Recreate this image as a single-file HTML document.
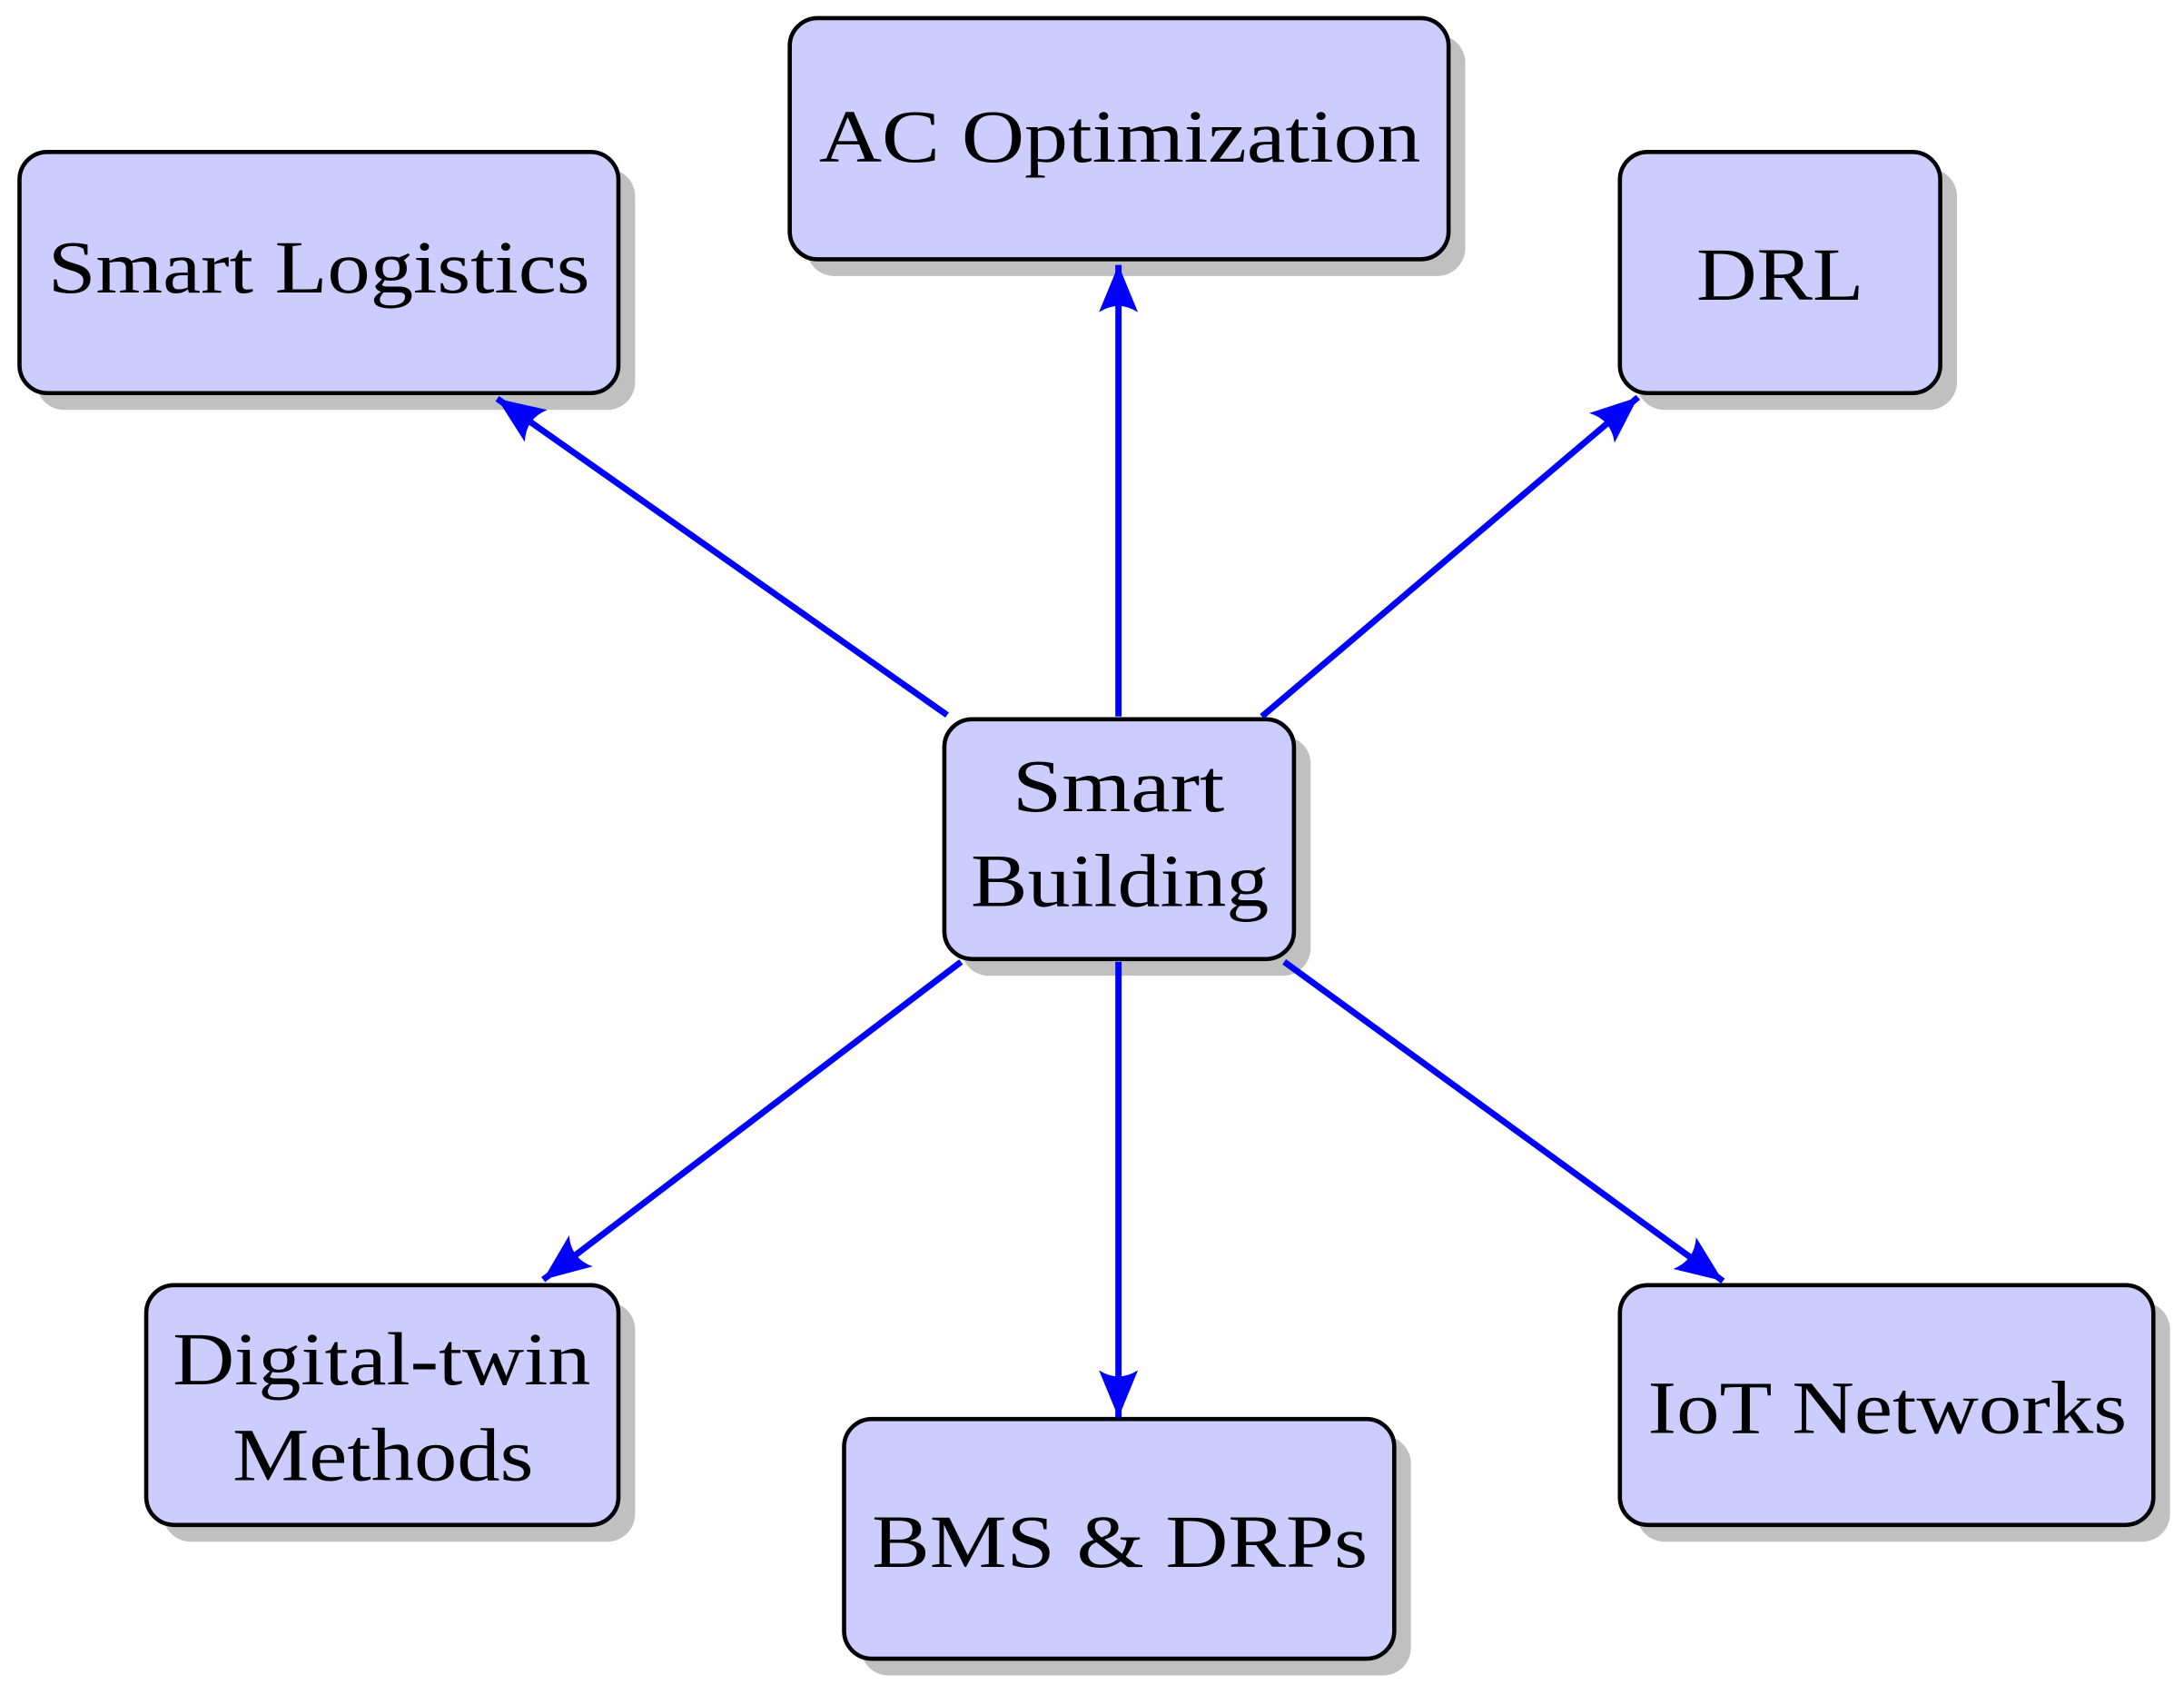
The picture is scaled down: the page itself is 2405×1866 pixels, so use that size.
<!DOCTYPE html>
<html><head><meta charset="utf-8"><style>
html,body{margin:0;padding:0;background:#fff;}
svg{display:block;}
text{font-family:"Liberation Serif",serif;font-size:54px;fill:#000;}
</style></head><body>
<svg width="2405" height="1866" viewBox="0 0 1568 1216" preserveAspectRatio="none" xmlns="http://www.w3.org/2000/svg">
<defs>
<marker id="a" markerUnits="userSpaceOnUse" markerWidth="40" markerHeight="32" refX="34" refY="14" orient="auto">
<path d="M0,0 L34,14 L0,28 Q9,14 0,0 z" fill="#0000ff"/>
</marker>
</defs>
<g fill="#c0c0c0">
<rect x="579" y="25" width="473" height="173" rx="20"/>
<rect x="26" y="121" width="430" height="173" rx="20"/>
<rect x="1175" y="121" width="230" height="173" rx="20"/>
<rect x="690" y="528" width="251" height="172" rx="20"/>
<rect x="117" y="934" width="339" height="172" rx="20"/>
<rect x="618" y="1030" width="395" height="172" rx="20"/>
<rect x="1175" y="934" width="383" height="172" rx="20"/>
</g>
<g fill="#ccccff" stroke="#000" stroke-width="3">
<rect x="567" y="13" width="473" height="173" rx="20"/>
<rect x="14" y="109" width="430" height="173" rx="20"/>
<rect x="1163" y="109" width="230" height="173" rx="20"/>
<rect x="678" y="516" width="251" height="172" rx="20"/>
<rect x="105" y="922" width="339" height="172" rx="20"/>
<rect x="606" y="1018" width="395" height="172" rx="20"/>
<rect x="1163" y="922" width="383" height="172" rx="20"/>
</g>
<g stroke="#0000ff" stroke-width="4.5" marker-end="url(#a)">
<line x1="803" y1="514" x2="803" y2="190"/>
<line x1="680" y1="513" x2="357" y2="286"/>
<line x1="906" y1="514" x2="1176" y2="285"/>
<line x1="690" y1="690" x2="390" y2="918"/>
<line x1="803" y1="690" x2="803" y2="1017"/>
<line x1="922" y1="690" x2="1237" y2="919"/>
</g>
<g text-anchor="middle" lengthAdjust="spacingAndGlyphs">
<text x="804" y="116" textLength="432" lengthAdjust="spacingAndGlyphs">AC Optimization</text>
<text x="229" y="210" textLength="389" lengthAdjust="spacingAndGlyphs">Smart Logistics</text>
<text x="1278" y="215" textLength="120" lengthAdjust="spacingAndGlyphs">DRL</text>
<text x="803" y="582" textLength="152" lengthAdjust="spacingAndGlyphs">Smart</text>
<text x="804" y="650" textLength="214" lengthAdjust="spacingAndGlyphs">Building</text>
<text x="274" y="993" textLength="300" lengthAdjust="spacingAndGlyphs">Digital-twin</text>
<text x="275" y="1062" textLength="216" lengthAdjust="spacingAndGlyphs">Methods</text>
<text x="804" y="1124" textLength="356" lengthAdjust="spacingAndGlyphs">BMS &amp; DRPs</text>
<text x="1355" y="1028" textLength="344" lengthAdjust="spacingAndGlyphs">IoT Networks</text>
</g>
</svg>
</body></html>
